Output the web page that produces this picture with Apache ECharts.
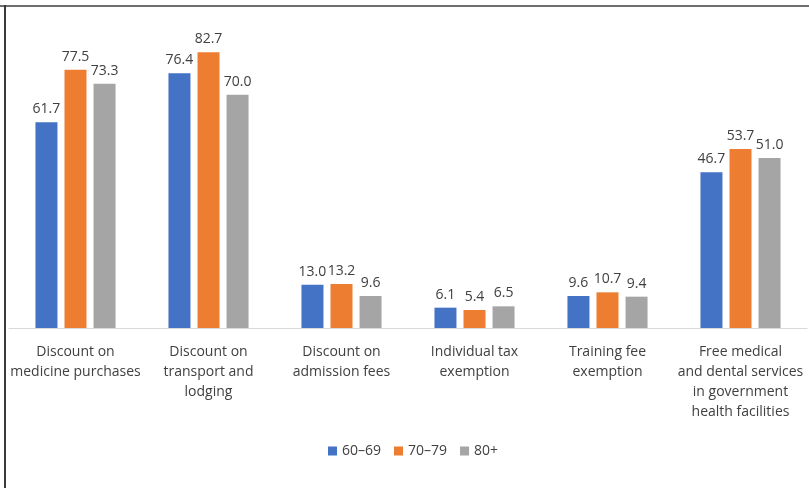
<!DOCTYPE html>
<html>
<head>
<meta charset="utf-8">
<script src="https://cdn.jsdelivr.net/npm/echarts@6/dist/echarts.min.js"></script>
<style>
  html, body { margin: 0; padding: 0; background: #fff; }
  #chart { width: 809px; height: 488px; }
</style>
</head>
<body>
<div id="chart"></div>
<script>
// Benefit categories (line breaks follow the wrapped axis labels)
const categories = [
  'Discount on\nmedicine purchases',
  'Discount on\ntransport and\nlodging',
  'Discount on\nadmission fees',
  'Individual tax\nexemption',
  'Training fee\nexemption',
  'Free medical\nand dental services\nin government\nhealth facilities'
];
const seriesNames = ['60\u201369', '70\u201379', '80+'];
const age60to69 = [61.7, 76.4, 13.0, 6.1, 9.6, 46.7];
const age70to79 = [77.5, 82.7, 13.2, 5.4, 10.7, 53.7];
const age80plus = [73.3, 70.0, 9.6, 6.5, 9.4, 51.0];

const colors = ['#4472C4', '#ED7D31', '#A5A5A5'];
const textColor = '#404040';
const fontFamily = '"Open Sans", "Noto Sans", sans-serif';

const chart = echarts.init(document.getElementById('chart'), null, { renderer: 'canvas' });

function barSeries(name, data, color) {
  return {
    name: name,
    type: 'bar',
    data: data,
    barWidth: 22,
    barGap: '32%',
    itemStyle: { color: color },
    label: {
      show: true,
      position: 'top',
      distance: 6,
      color: textColor,
      fontFamily: fontFamily,
      fontSize: 14,
      formatter: p => p.value.toFixed(1)
    }
  };
}

chart.setOption({
  animation: false,
  textStyle: { fontFamily: fontFamily },
  grid: { left: 9, right: 2, top: 28, height: 300, containLabel: false },
  graphic: [
    { type: 'line', shape: { x1: 0, y1: 6, x2: 809, y2: 6 }, style: { stroke: '#6e6e6e', lineWidth: 2 } },
    { type: 'line', shape: { x1: 5, y1: 5, x2: 5, y2: 488 }, style: { stroke: '#3a3a3a', lineWidth: 2 } }
  ],
  legend: {
    data: seriesNames,
    top: 439,
    left: 323,
    itemWidth: 9,
    itemHeight: 9,
    itemGap: 13,
    icon: 'rect',
    textStyle: { color: textColor, fontSize: 14, fontFamily: fontFamily }
  },
  xAxis: {
    type: 'category',
    data: categories,
    axisLine: { lineStyle: { color: '#D9D9D9', width: 1 } },
    axisTick: { show: false },
    axisLabel: {
      interval: 0,
      margin: 14,
      color: textColor,
      fontSize: 14,
      lineHeight: 20,
      fontFamily: fontFamily
    }
  },
  yAxis: {
    type: 'value',
    min: 0,
    max: 90,
    show: false,
    splitLine: { show: false }
  },
  series: [
    barSeries(seriesNames[0], age60to69, colors[0]),
    barSeries(seriesNames[1], age70to79, colors[1]),
    barSeries(seriesNames[2], age80plus, colors[2])
  ]
});
</script>
</body>
</html>
